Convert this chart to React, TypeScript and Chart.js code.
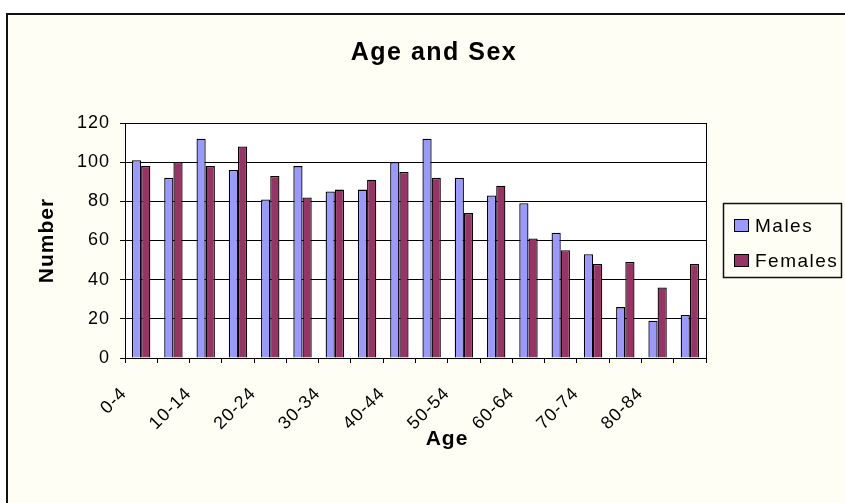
import { useEffect, useRef } from 'react';
import { Chart, registerables } from 'chart.js';

Chart.register(...registerables);

const categories = ['0-4', '5-9', '10-14', '15-19', '20-24', '25-29', '30-34', '35-39', '40-44', '45-49', '50-54', '55-59', '60-64', '65-69', '70-74', '75-79', '80-84', '85+'];
const males = [101, 92, 112, 96, 81, 98, 85, 86, 100, 112, 92, 83, 79, 64, 53, 26, 19, 22];
const females = [98, 100, 98, 108, 93, 82, 86, 91, 95, 92, 74, 88, 61, 55, 48, 49, 36, 48];
const shownTickLabels = ['0-4', '10-14', '20-24', '30-34', '40-44', '50-54', '60-64', '70-74', '80-84'];
const yMin = 0;
const yMax = 120;
const yStep = 20;
const TITLE = 'Age and Sex';
const X_TITLE = 'Age';
const Y_TITLE = 'Number';

const FONT = '"Liberation Sans", Arial, Helvetica, sans-serif';
const CREAM = '#FEFEF4';

const decor = {
  id: 'decor',
  beforeDraw(chart: any) {
    const { ctx, width, height, chartArea: a } = chart;
    ctx.save();
    ctx.fillStyle = '#ffffff';
    ctx.fillRect(0, 0, width, height);
    ctx.fillStyle = CREAM;
    ctx.fillRect(6, 13, width - 6, height - 13);
    ctx.fillStyle = '#111111';
    ctx.fillRect(6, 13, 2, height - 13);
    ctx.fillRect(6, 13, width - 6, 2);
    ctx.fillStyle = '#ffffff';
    ctx.fillRect(a.left, a.top, a.right - a.left, a.bottom - a.top);
    ctx.restore();
    ctx.letterSpacing = '1px';
  },
  afterDraw(chart: any) {
    const { ctx, chartArea: a } = chart;
    ctx.save();
    ctx.letterSpacing = '0px';
    ctx.strokeStyle = '#000';
    ctx.lineWidth = 1;
    const rx = Math.round(a.right) + 0.5;
    ctx.beginPath();
    ctx.moveTo(rx, a.top);
    ctx.lineTo(rx, a.bottom);
    ctx.stroke();

    // Title
    ctx.letterSpacing = '1.5px';
    ctx.font = `bold 25px ${FONT}`;
    ctx.fillStyle = '#000';
    ctx.textAlign = 'center';
    ctx.textBaseline = 'alphabetic';
    ctx.fillText(TITLE, 434, 60);

    // X axis title
    ctx.letterSpacing = '1px';
    ctx.font = `bold 21px ${FONT}`;
    ctx.fillText(X_TITLE, 447, 445);

    // Legend
    ctx.letterSpacing = '0px';
    ctx.lineWidth = 1.5;
    ctx.strokeStyle = '#111';
    ctx.strokeRect(723.5, 203.5, 118, 74);
    const rows = [219, 254];
    chart.data.datasets.forEach((ds: any, i: number) => {
      const y = rows[i];
      ctx.fillStyle = ds.backgroundColor;
      ctx.fillRect(734, y, 15, 13);
      ctx.lineWidth = 1;
      ctx.strokeStyle = '#000';
      ctx.strokeRect(734.5, y + 0.5, 14, 12);
      ctx.letterSpacing = '1.5px';
      ctx.font = `19px ${FONT}`;
      ctx.fillStyle = '#000';
      ctx.textAlign = 'left';
      ctx.textBaseline = 'alphabetic';
      ctx.fillText(ds.label, 755, y + 13);
      ctx.letterSpacing = '0px';
    });
    ctx.restore();
    ctx.letterSpacing = '0px';
  },
};

export default function App() {
  const ref = useRef<HTMLCanvasElement | null>(null);
  useEffect(() => {
    document.body.style.margin = '0';
    const canvas = ref.current;
    if (!canvas) return;
    const chart = new Chart(canvas, {
      type: 'bar',
      data: {
        labels: categories,
        datasets: [
          { label: 'Males', data: males, backgroundColor: '#9999FF', borderColor: '#000', borderWidth: 1.3 },
          { label: 'Females', data: females, backgroundColor: '#993366', borderColor: '#000', borderWidth: 1.3 },
        ],
      },
      options: {
        responsive: false,
        animation: false,
        devicePixelRatio: 1,
        layout: { padding: { left: 8, right: 139, top: 123, bottom: 45 } },
        plugins: {
          legend: { display: false },
          title: { display: false },
          tooltip: { enabled: false },
        },
        datasets: { bar: { categoryPercentage: 0.57, barPercentage: 1.0 } },
        scales: {
          x: {
            grid: { display: true, drawOnChartArea: false, drawTicks: true, tickLength: 5, color: '#000', offset: true },
            border: { color: '#000', width: 1 },
            ticks: {
              autoSkip: false,
              minRotation: 45,
              maxRotation: 45,
              color: '#000',
              padding: 20,
              labelOffset: -17,
              font: { size: 18, family: FONT },
              callback: (_v: any, i: number) => (shownTickLabels.includes(categories[i]) ? categories[i] : ''),
            },
            title: { display: false },
            afterFit(scale: any) {
              scale.height = 100;
            },
          },
          y: {
            min: yMin,
            max: yMax,
            ticks: { stepSize: yStep, color: '#000', padding: 10, font: { size: 18, family: FONT } },
            grid: { color: '#000', lineWidth: 1, tickLength: 5, drawTicks: true },
            border: { color: '#000', width: 1 },
            title: {
              display: true,
              text: Y_TITLE,
              color: '#000',
              font: { size: 21, weight: 'bold', family: FONT },
              padding: { top: 27, bottom: 0 },
            },
            afterFit(scale: any) {
              scale.width = 117;
            },
          },
        },
      },
      plugins: [decor],
    } as any);
    return () => chart.destroy();
  }, []);
  return <canvas ref={ref} width={845} height={503} style={{ display: 'block', width: '845px', height: '503px' }} />;
}
